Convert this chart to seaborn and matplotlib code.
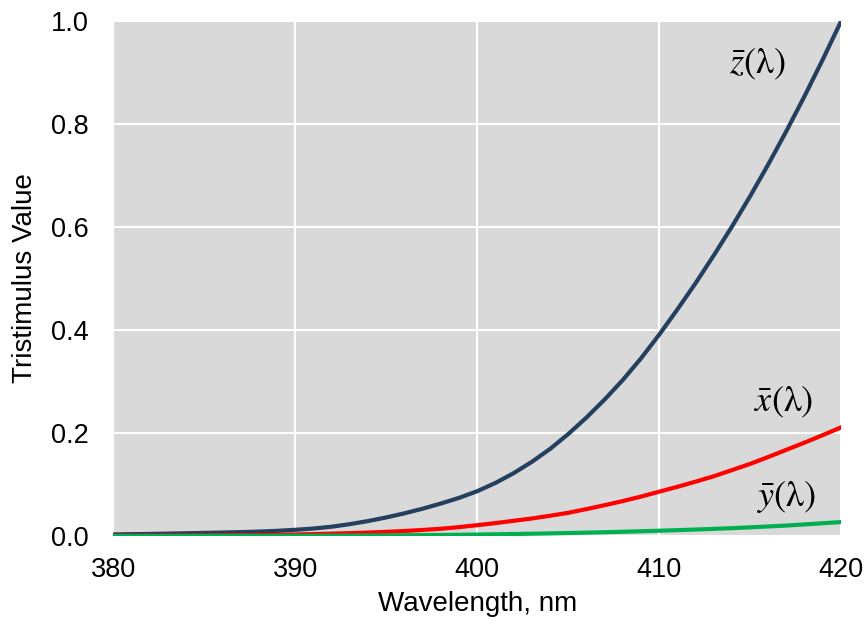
import numpy as np
import pandas as pd
import matplotlib
matplotlib.use("Agg")
import matplotlib.pyplot as plt
import seaborn as sns

wavelength = list(range(380, 421))
z_bar = [0.003, 0.0035, 0.004, 0.0046, 0.0053, 0.006, 0.0067, 0.0075, 0.0085, 0.010,
         0.012, 0.0145, 0.018, 0.023, 0.029, 0.036, 0.044, 0.053, 0.063, 0.074,
         0.087, 0.103, 0.122, 0.144, 0.169, 0.198, 0.230, 0.265, 0.303, 0.345,
         0.391, 0.440, 0.491, 0.545, 0.601, 0.660, 0.722, 0.787, 0.855, 0.926,
         1.000]
x_bar = [0.0005, 0.0006, 0.0007, 0.0008, 0.001, 0.0012, 0.0015, 0.0018, 0.0021, 0.0025,
         0.003, 0.0037, 0.0045, 0.0055, 0.0066, 0.008, 0.0097, 0.0117, 0.014, 0.0172,
         0.021, 0.025, 0.0295, 0.034, 0.0393, 0.045, 0.0522, 0.0598, 0.0678, 0.0765,
         0.086, 0.0955, 0.1055, 0.116, 0.128, 0.140, 0.1535, 0.1675, 0.1815, 0.196,
         0.211]
y_bar = [0.0, 0.00005, 0.0001, 0.0001, 0.00015, 0.0002, 0.0002, 0.0003, 0.0003, 0.0004,
         0.0005, 0.0006, 0.0007, 0.0008, 0.001, 0.0012, 0.0014, 0.0017, 0.002, 0.0024,
         0.0028, 0.0033, 0.0038, 0.0044, 0.005, 0.0057, 0.0065, 0.0073, 0.0082, 0.0092,
         0.0102, 0.0113, 0.0125, 0.0138, 0.0152, 0.0168, 0.0185, 0.0203, 0.0225, 0.0248,
         0.027]
series_names = ["z", "x", "y"]
series_labels = [r"$\bar{z}(\mathrm{\lambda})$", r"$\bar{x}(\mathrm{\lambda})$",
                 r"$\bar{y}(\mathrm{\lambda})$"]
colors = ["#253f5f", "#ff0000", "#00b050"]
x_ticks = [380, 390, 400, 410, 420]
y_ticks = [0.0, 0.2, 0.4, 0.6, 0.8, 1.0]
y_tick_labels = ["0.0", "0.2", "0.4", "0.6", "0.8", "1.0"]

df = pd.concat([
    pd.DataFrame({"Wavelength": wavelength, "Value": vals, "Series": name})
    for name, vals in zip(series_names, [z_bar, x_bar, y_bar])
])

sns.set_theme(style="darkgrid", rc={
    "axes.facecolor": "#d9d9d9",
    "grid.color": "white",
    "grid.linewidth": 1.5,
})
plt.rcParams["font.family"] = ["Liberation Sans", "DejaVu Sans"]
plt.rcParams["mathtext.fontset"] = "stix"

fig = plt.figure(figsize=(8.67, 6.26), dpi=100)
ax = fig.add_axes([0.1307, 0.1438, 0.9704 - 0.1307, 0.967 - 0.1438])

sns.lineplot(data=df, x="Wavelength", y="Value", hue="Series",
             hue_order=series_names, palette=colors, linewidth=3.0,
             legend=False, ax=ax, sort=True)

ax.set_xlim(380, 420)
ax.set_ylim(0, 1.0)
ax.set_xticks(x_ticks)
ax.set_yticks(y_ticks)
ax.set_yticklabels(y_tick_labels)
ax.tick_params(axis="both", which="both", length=0, labelsize=19.5, colors="black")
ax.tick_params(axis="x", pad=15)
ax.tick_params(axis="y", pad=18)
for s in ax.spines.values():
    s.set_visible(False)

ax.set_xlabel("Wavelength, nm", fontsize=20, color="black", labelpad=6)
ax.set_ylabel("Tristimulus Value", fontsize=20, color="black")
ax.yaxis.set_label_coords(-0.104, 0.5)

label_pos = [(415.4, 0.915), (416.85, 0.26), (417.0, 0.076)]
for lab, (lx, ly) in zip(series_labels, label_pos):
    ax.text(lx, ly, lab, fontsize=26, ha="center", va="center", color="black")

fig.savefig("out.png", dpi=100)
